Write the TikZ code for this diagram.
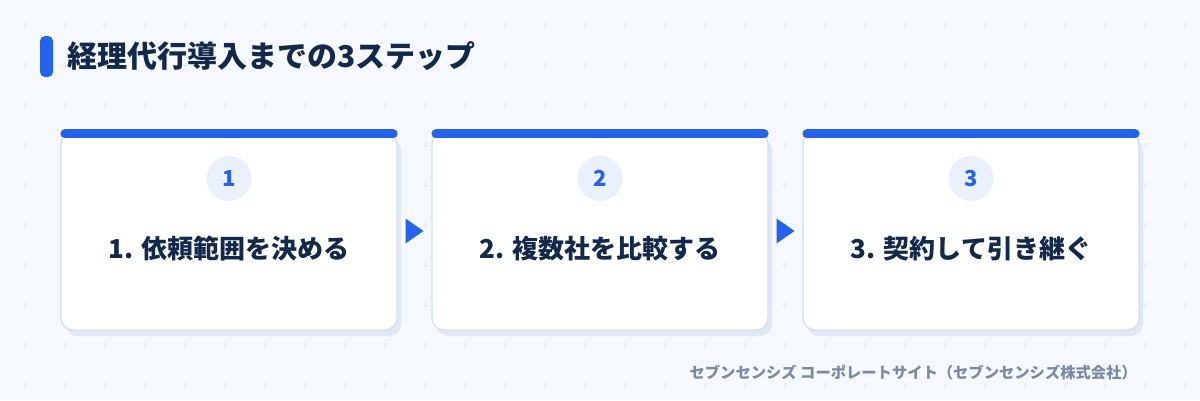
\documentclass[tikz,border=0pt]{standalone}
\usepackage{fontspec}
\setmainfont{Noto Sans CJK JP}
\usetikzlibrary{positioning,shadows,calc}

\definecolor{bgcol}{HTML}{F5F8FC}
\definecolor{gridcol}{HTML}{D9E2EE}
\definecolor{bluecol}{HTML}{2563EB}
\definecolor{navycol}{HTML}{13294B}
\definecolor{bordercol}{HTML}{D3DFEE}
\definecolor{shadowcol}{HTML}{E0E8F3}
\definecolor{circcol}{HTML}{EAF1FD}
\definecolor{footcol}{HTML}{7A8AA6}

\begin{document}
\begin{tikzpicture}[
        x=1pt, y=-1pt,
        % Define styles
        gridmark/.style={gridcol, line width=0.8pt},
        marker/.style={rectangle, fill=bluecol, rounded corners=5pt, minimum width=13pt, minimum height=41pt, inner sep=0pt},
        title/.style={text=navycol, font=\bfseries\fontsize{30}{30}\selectfont, inner sep=0pt},
        card/.style={rectangle, fill=white, draw=bordercol, line width=1.2pt, rounded corners=12pt,
            minimum width=336pt, minimum height=198pt,
            drop shadow={shadow xshift=4pt, shadow yshift=-6pt, fill=shadowcol, opacity=1}},
        topbar/.style={draw=bluecol, line width=9pt, line cap=round},
        numcirc/.style={circle, fill=circcol, minimum size=45pt, inner sep=0pt, text=bluecol,
            font=\bfseries\fontsize{22}{22}\selectfont},
        steplabel/.style={text=navycol, font=\bfseries\fontsize{26}{26}\selectfont, inner sep=0pt},
        nextmark/.style={fill=bluecol},
        footer/.style={text=footcol, font=\bfseries\fontsize{15.3}{15.3}\selectfont, inner sep=0pt}
    ]

        % --- Background ---
        \fill[bgcol] (0,0) rectangle (1200,400);
        \useasboundingbox (0,0) rectangle (1200,400);
        \foreach \gx in {25,65,...,1185} {
            \foreach \gy in {25,65,...,385} {
                \draw[gridmark] (\gx-2,\gy) -- (\gx+2,\gy) (\gx,\gy-2) -- (\gx,\gy+2);
            }
        }

        % --- Coordinates ---
        \coordinate (c1) at (229,231);
        \coordinate (c2) at (600,231);
        \coordinate (c3) at (971,231);

        % --- Title ---
        \node[marker] (mark) at (46.5,56.5) {};
        \node[title, right=14pt of mark] (heading) {経理代行導入までの3ステップ};

        % --- Cards ---
        \node[card] (card1) at (c1) {};
        \node[card] (card2) at (c2) {};
        \node[card] (card3) at (c3) {};

        \draw[topbar] ([xshift=4.5pt,yshift=-2.5pt]card1.north west) -- ([xshift=-4.5pt,yshift=-2.5pt]card1.north east);
        \draw[topbar] ([xshift=4.5pt,yshift=-2.5pt]card2.north west) -- ([xshift=-4.5pt,yshift=-2.5pt]card2.north east);
        \draw[topbar] ([xshift=4.5pt,yshift=-2.5pt]card3.north west) -- ([xshift=-4.5pt,yshift=-2.5pt]card3.north east);

        % Number badges
        \node[numcirc] (num1) at ([yshift=-47pt]card1.north) {1};
        \node[numcirc] (num2) at ([yshift=-47pt]card2.north) {2};
        \node[numcirc] (num3) at ([yshift=-47pt]card3.north) {3};

        % Step labels
        \node[steplabel] (step1) at ([yshift=-18pt]card1.center) {1. 依頼範囲を決める};
        \node[steplabel] (step2) at ([yshift=-18pt]card2.center) {2. 複数社を比較する};
        \node[steplabel] (step3) at ([yshift=-18pt]card3.center) {3. 契約して引き継ぐ};

        % --- Arrows between cards ---
        \coordinate (gap12) at ($(card1.east)!0.5!(card2.west)$);
        \coordinate (gap23) at ($(card2.east)!0.5!(card3.west)$);
        \fill[nextmark] ($(gap12)+(-9,-12.5)$) -- ($(gap12)+(9,0)$) -- ($(gap12)+(-9,12.5)$) -- cycle;
        \fill[nextmark] ($(gap23)+(-9,-12.5)$) -- ($(gap23)+(9,0)$) -- ($(gap23)+(-9,12.5)$) -- cycle;

        % --- Footer ---
        \node[footer, anchor=east] (source) at (1137,373) {セブンセンシズ コーポレートサイト（セブンセンシズ株式会社）};

    \end{tikzpicture}
\end{document}
